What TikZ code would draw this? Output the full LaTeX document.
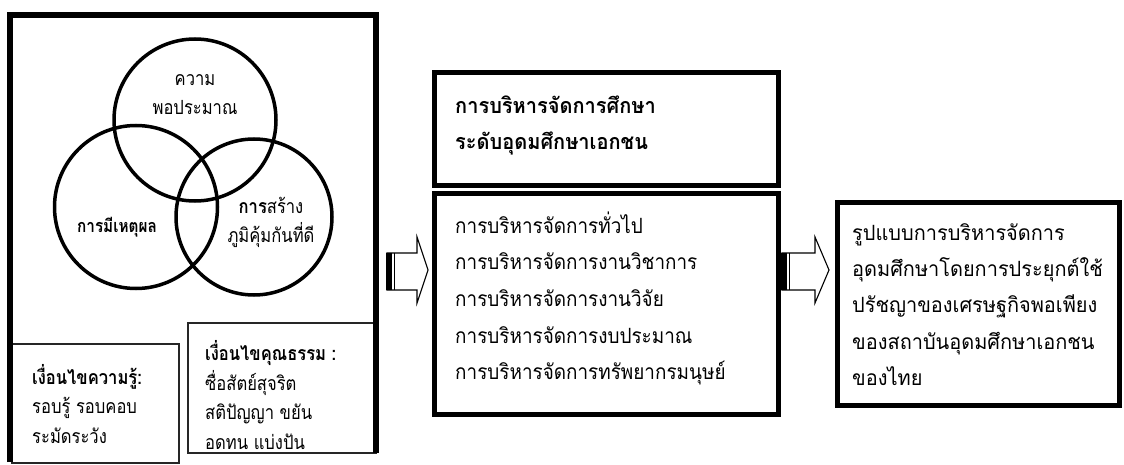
\documentclass[tikz,border=0pt]{standalone}
\usepackage{fontspec}
\newfontfamily\thaiL[Script=Thai,FakeStretch=0.90]{Loma}
\newfontfamily\thaiH[Script=Thai,FakeStretch=0.93]{Loma}
\newfontfamily\thaiR[Script=Thai,FakeStretch=0.95]{Loma}
\newfontfamily\thaiV[Script=Thai,FakeStretch=0.85]{Loma}
\tikzset{
  bigbox/.style={draw, line width=5pt, fill=white, inner sep=0pt, anchor=north west},
  smallbox/.style={draw=black!85, line width=2.2pt, fill=white, inner sep=0pt, anchor=north west},
  ring/.style={circle, draw, line width=3.5pt, inner sep=0pt},
  vtext/.style={font=\thaiV\fontsize{19.5}{29}\selectfont, align=center, inner sep=0pt},
  ctext/.style={font=\thaiV\fontsize{19.5}{29.5}\selectfont, align=left, inner sep=0pt, anchor=west},
  mtext/.style={font=\thaiL\fontsize{21}{36.7}\selectfont, align=left, inner sep=0pt, anchor=west},
  htext/.style={font=\thaiH\bfseries\fontsize{21.5}{36}\selectfont, align=left, inner sep=0pt, anchor=west},
  rtext/.style={font=\thaiR\fontsize{21}{36.2}\selectfont, align=left, inner sep=0pt, anchor=west},
  blockarrow/.style={draw, line width=1.1pt, fill=white, line join=miter}
}
\begin{document}
\begin{tikzpicture}[x=1pt,y=-1pt]
\useasboundingbox (0,0) rectangle (1124,465);
% bottom boxes of the left panel
\node[smallbox, minimum width=167pt, minimum height=119pt] (kbox) at (11,343) {};
\node[smallbox, minimum width=188pt, minimum height=130pt] (mbox) at (187,322) {};
% outer frame of the left panel
\draw[line width=5.5pt] (10,462) -- (10,15) -- (376,15) -- (376,453);
% Venn circles
\node[ring, minimum size=162pt] (ctop) at (195,120) {};
\node[ring, minimum size=163pt] (cleft) at (136,207) {};
\node[ring, minimum size=156pt] (cright) at (254,217) {};
\node[vtext] (ttop) at (195,95) {ความ\\พอประมาณ};
\node[vtext, font=\thaiV\bfseries\fontsize{18}{29}\selectfont] (tleft) at (117,227) {การมีเหตุผล};
\node[vtext] (tright) at (271,222) {\textbf{การ}สร้าง\\ภูมิคุ้มกันที่ดี};
% condition texts
\node[ctext] (ktext) at (32,404) {\textbf{เงื่อนไขความรู้:}\\รอบรู้ รอบคอบ\\ระมัดระวัง};
\node[ctext] (mtext) at (205,395) {\textbf{เงื่อนไขคุณธรรม :}\\ซื่อสัตย์สุจริต\\สติปัญญา ขยัน\\อดทน แบ่งปัน};
% middle column
\node[bigbox, minimum width=344pt, minimum height=113pt] (hbox) at (432,70) {};
\node[htext] (htxt) at (455,125) {การบริหารจัดการศึกษา\\ระดับอุดมศึกษาเอกชน};
\node[bigbox, minimum width=344pt, minimum height=221pt] (lbox) at (432,191) {};
\node[mtext] (ltext) at (455,298.5) {การบริหารจัดการทั่วไป\\การบริหารจัดการงานวิชาการ\\การบริหารจัดการงานวิจัย\\การบริหารจัดการงบประมาณ\\การบริหารจัดการทรัพยากรมนุษย์};
% right box
\node[bigbox, minimum width=282pt, minimum height=203pt] (rbox) at (835,200) {};
\node[rtext] (rtxt) at (852,304.5) {รูปแบบการบริหารจัดการ\\อุดมศึกษาโดยการประยุกต์ใช้\\ปรัชญาของเศรษฐกิจพอเพียง\\ของสถาบันอุดมศึกษาเอกชน\\ของไทย};
% block arrows
\draw[blockarrow] (387,253) -- (417,253) -- (417,237) -- (428,270) -- (417,303) -- (417,290) -- (387,290) -- cycle;
\fill (386,253) rectangle (392,290);
\draw[line width=0.8pt] (394.5,253) -- (394.5,290);
\draw[blockarrow] (782,253) -- (815,253) -- (815,237) -- (829,270) -- (815,303) -- (815,290) -- (782,290) -- cycle;
\fill (781,253) rectangle (787,290);
\draw[line width=0.8pt] (789.5,253) -- (789.5,290);
\end{tikzpicture}
\end{document}
